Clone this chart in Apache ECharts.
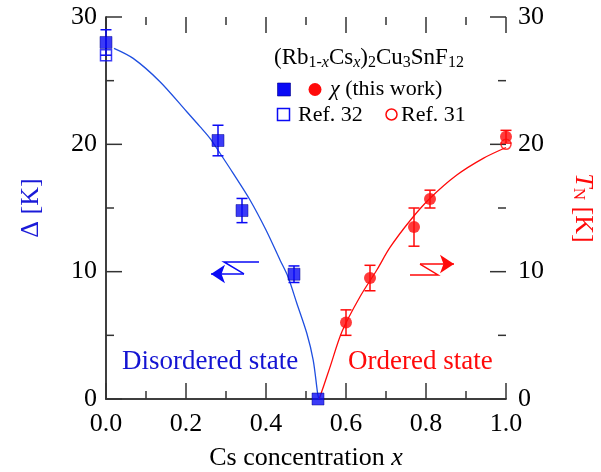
<!DOCTYPE html>
<html>
<head>
<meta charset="utf-8">
<script src="https://cdn.jsdelivr.net/npm/echarts@6/dist/echarts.min.js"></script>
<style>
  html, body { margin: 0; padding: 0; background: #fff; }
  #chart { width: 601px; height: 472px; }
</style>
</head>
<body>
<div id="chart"></div>
<script>
// Spin gap Δ (left axis) and Néel temperature T_N (right axis) vs Cs concentration x
const gapX = [0.0, 0.28, 0.34, 0.47, 0.53];
const gapY = [28.0, 20.3, 14.8, 9.8, 0.0];
const gapErr = [1.0, 1.2, 0.95, 0.65, 0.0];

const gapRefX = [0.0];
const gapRefY = [27.0];

const tnX = [0.60, 0.66, 0.77, 0.81, 1.0];
const tnY = [6.0, 9.5, 13.5, 15.7, 20.6];
const tnErr = [1.0, 1.0, 1.5, 0.7, 0.5];

const tnRefX = [1.0];
const tnRefY = [20.0];

// guide curves (x, value)
const gapCurve = [
  [0.02, 27.54], [0.068, 26.75], [0.135, 24.92], [0.202, 22.56], [0.235, 21.39],
  [0.26, 20.47], [0.285, 19.3], [0.318, 17.72], [0.36, 15.63], [0.40, 13.27],
  [0.435, 10.92], [0.455, 9.6], [0.477, 7.52], [0.502, 5.16], [0.518, 3.06],
  [0.529, 0.45], [0.532, 0.0]
];
const tnCurve = [
  [0.533, 0.0], [0.545, 1.1], [0.56, 2.5], [0.59, 5.3], [0.635, 8.03],
  [0.677, 10.13], [0.71, 11.9], [0.76, 14.0], [0.81, 15.76], [0.877, 17.59],
  [0.943, 18.9], [1.0, 19.75]
];

// direction arrows (data coordinates): body polyline + final segment carrying the head
const gapArrowBody = [[0.3825, 10.76], [0.295, 10.76], [0.345, 9.82]];
const gapArrowHead = [[0.345, 9.82], [0.2625, 9.82]];
const tnArrowBody = [[0.76, 9.74], [0.83, 9.74], [0.785, 10.6]];
const tnArrowHead = [[0.785, 10.6], [0.87, 10.6]];

// axis ticks
const xRange = [0, 1];
const yRange = [0, 30];
const xMajor = [0, 0.2, 0.4, 0.6, 0.8, 1.0];
const xMinor = [0.1, 0.3, 0.5, 0.7, 0.9];
const yMajor = [0, 10, 20, 30];
const yMinor = [5, 15, 25];

const BLUE = '#0a0af5';
const BLUE_LINE = '#1f4fe0';
const RED = '#ff0a0a';
const AXIS = '#333333';
const FONT = "'Liberation Serif', 'Times New Roman', serif";
const MAJOR_LEN = 16;
const MINOR_LEN = 8;

const zip = (xs, ys) => xs.map((x, i) => [x, ys[i]]);
const errData = (xs, ys, es) => xs.map((x, i) => [x, ys[i], ys[i] - es[i], ys[i] + es[i]]);

// [axisKind (0 = x, 1 = y), value, length]
const tickData = [].concat(
  xMajor.map(v => [0, v, MAJOR_LEN]), xMinor.map(v => [0, v, MINOR_LEN]),
  yMajor.map(v => [1, v, MAJOR_LEN]), yMinor.map(v => [1, v, MINOR_LEN])
);

function renderTick(params, api) {
  const kind = api.value(0), v = api.value(1), len = api.value(2);
  const style = { stroke: AXIS, lineWidth: 1.5 };
  if (kind === 0) {
    const b = api.coord([v, yRange[0]]);
    const t = api.coord([v, yRange[1]]);
    return { type: 'group', children: [
      { type: 'line', shape: { x1: b[0], y1: b[1], x2: b[0], y2: b[1] - len }, style },
      { type: 'line', shape: { x1: t[0], y1: t[1], x2: t[0], y2: t[1] + len }, style }
    ] };
  }
  const l = api.coord([xRange[0], v]);
  const r = api.coord([xRange[1], v]);
  return { type: 'group', children: [
    { type: 'line', shape: { x1: l[0], y1: l[1], x2: l[0] + len, y2: l[1] }, style },
    { type: 'line', shape: { x1: r[0], y1: r[1], x2: r[0] - len, y2: r[1] }, style }
  ] };
}

function errorBars(color) {
  return function (params, api) {
    const x = api.value(0);
    const lo = api.coord([x, api.value(2)]);
    const hi = api.coord([x, api.value(3)]);
    if (Math.abs(lo[1] - hi[1]) < 1) return null;
    const w = 5.5;
    const style = { stroke: color, lineWidth: 1.5 };
    return {
      type: 'group',
      children: [
        { type: 'line', shape: { x1: lo[0], y1: lo[1], x2: hi[0], y2: hi[1] }, style },
        { type: 'line', shape: { x1: lo[0] - w, y1: lo[1], x2: lo[0] + w, y2: lo[1] }, style },
        { type: 'line', shape: { x1: hi[0] - w, y1: hi[1], x2: hi[0] + w, y2: hi[1] }, style }
      ]
    };
  };
}

const axisCommon = {
  axisLine: { show: true, lineStyle: { color: AXIS, width: 1.5 } },
  axisTick: { show: false },
  minorTick: { show: false },
  splitLine: { show: false },
  minorSplitLine: { show: false }
};

const labelStyle = { color: '#000', fontFamily: FONT, fontSize: 26 };

const chart = echarts.init(document.getElementById('chart'), null, { renderer: 'canvas' });

chart.setOption({
  animation: false,
  backgroundColor: '#fff',
  grid: { left: 106, right: 95, top: 17, bottom: 73, containLabel: false, outerBoundsMode: 'none' },
  xAxis: [
    Object.assign({
      type: 'value', position: 'bottom',
      min: xRange[0], max: xRange[1], interval: 0.2,
      axisLabel: Object.assign({ margin: 12, formatter: v => v.toFixed(1) }, labelStyle),
      name: '{n|Cs concentration }{i|x}',
      nameLocation: 'middle', nameGap: 46,
      nameTextStyle: {
        rich: {
          n: { fontFamily: FONT, fontSize: 26, color: '#000' },
          i: { fontFamily: FONT, fontSize: 26, color: '#000', fontStyle: 'italic' }
        }
      }
    }, axisCommon),
    Object.assign({
      type: 'value', position: 'top',
      min: xRange[0], max: xRange[1], interval: 0.2,
      axisLabel: { show: false }
    }, axisCommon)
  ],
  yAxis: [
    Object.assign({
      type: 'value', position: 'left',
      min: yRange[0], max: yRange[1], interval: 10,
      axisLabel: Object.assign({ margin: 9 }, labelStyle),
      name: 'Δ [K]', nameLocation: 'middle', nameGap: 62, nameRotate: 90,
      nameTextStyle: { fontFamily: FONT, fontSize: 26, color: '#1a1ad8' }
    }, axisCommon),
    Object.assign({
      type: 'value', position: 'right',
      min: yRange[0], max: yRange[1], interval: 10,
      axisLabel: Object.assign({ margin: 12 }, labelStyle),
      name: '{t|T}{s|N}{n| [K]}', nameLocation: 'middle', nameGap: 64, nameRotate: -90,
      nameTextStyle: {
        rich: {
          t: { fontFamily: FONT, fontSize: 26, color: RED, fontStyle: 'italic' },
          s: { fontFamily: FONT, fontSize: 17, color: RED, verticalAlign: 'bottom', lineHeight: 14 },
          n: { fontFamily: FONT, fontSize: 26, color: RED }
        }
      }
    }, axisCommon)
  ],
  series: [
    {
      type: 'custom', renderItem: renderTick, clip: false, silent: true,
      data: tickData, encode: { x: 1, y: 2 }, z: 1
    },
    {
      type: 'line', data: gapCurve, smooth: 0.3, showSymbol: false, symbol: 'none',
      lineStyle: { color: BLUE_LINE, width: 1.3 }, z: 2
    },
    {
      type: 'line', data: tnCurve, smooth: 0.3, showSymbol: false, symbol: 'none',
      lineStyle: { color: RED, width: 1.3 }, z: 2
    },
    {
      type: 'lines', coordinateSystem: 'cartesian2d', polyline: true,
      data: [{ coords: gapArrowBody }, { coords: tnArrowBody, lineStyle: { color: RED } }],
      lineStyle: { color: BLUE, width: 1.5, opacity: 1 }, z: 3
    },
    {
      type: 'lines', coordinateSystem: 'cartesian2d',
      data: [{ coords: gapArrowHead }],
      symbol: ['none', 'arrow'], symbolSize: [9, 14],
      lineStyle: { color: BLUE, width: 1.5, opacity: 1 }, z: 3
    },
    {
      type: 'lines', coordinateSystem: 'cartesian2d',
      data: [{ coords: tnArrowHead }],
      symbol: ['none', 'arrow'], symbolSize: [9, 14],
      lineStyle: { color: RED, width: 1.5, opacity: 1 }, z: 3
    },
    {
      type: 'custom', renderItem: errorBars(BLUE), clip: false,
      data: errData(gapX, gapY, gapErr), encode: { x: 0, y: 1 }, z: 4
    },
    {
      type: 'custom', renderItem: errorBars(RED), clip: false,
      data: errData(tnX, tnY, tnErr), encode: { x: 0, y: 1 }, z: 4
    },
    {
      type: 'scatter', data: zip(gapRefX, gapRefY), symbol: 'rect', symbolSize: 11, clip: false,
      itemStyle: { color: 'rgba(0,0,0,0)', borderColor: BLUE, borderWidth: 1.5 }, z: 5
    },
    {
      type: 'scatter', data: zip(tnRefX, tnRefY), symbol: 'circle', symbolSize: 10, clip: false,
      itemStyle: { color: 'rgba(0,0,0,0)', borderColor: RED, borderWidth: 1.5 }, z: 5
    },
    {
      type: 'scatter', data: zip(gapX, gapY), symbol: 'rect', symbolSize: 12, clip: false,
      itemStyle: { color: BLUE, borderColor: '#00008a', borderWidth: 0.6 }, z: 6
    },
    {
      type: 'scatter', data: zip(tnX, tnY), symbol: 'circle', symbolSize: 12, clip: false,
      itemStyle: { color: RED }, z: 6
    }
  ],
  graphic: [
    {
      type: 'text', left: 274, top: 46, z: 10,
      style: {
        text: '{m|(Rb}{s|1-}{si|x}{m|Cs}{si|x}{m|)}{s|2}{m|Cu}{s|3}{m|SnF}{s|12}',
        rich: {
          m: { fontFamily: FONT, fontSize: 23, color: '#000', lineHeight: 26 },
          s: { fontFamily: FONT, fontSize: 16, color: '#000', verticalAlign: 'bottom', lineHeight: 14 },
          si: { fontFamily: FONT, fontSize: 16, color: '#000', fontStyle: 'italic', verticalAlign: 'bottom', lineHeight: 14 }
        }
      }
    },
    { type: 'rect', shape: { x: 277.5, y: 83, width: 13, height: 13 }, style: { fill: BLUE, stroke: '#00008a', lineWidth: 0.6 }, z: 10 },
    { type: 'circle', shape: { cx: 315, cy: 89.5, r: 6.5 }, style: { fill: RED }, z: 10 },
    {
      type: 'text', left: 330, top: 78, z: 10,
      style: {
        text: '{g|χ}{m| (this work)}',
        rich: {
          g: { fontFamily: FONT, fontSize: 22, color: '#000', fontStyle: 'italic' },
          m: { fontFamily: FONT, fontSize: 22, color: '#000' }
        }
      }
    },
    { type: 'rect', shape: { x: 277.5, y: 108.5, width: 12, height: 12 }, style: { fill: 'none', stroke: BLUE, lineWidth: 1.5 }, z: 10 },
    { type: 'text', left: 298, top: 104, z: 10, style: { text: 'Ref. 32', fontFamily: FONT, fontSize: 22, fill: '#000' } },
    { type: 'circle', shape: { cx: 391.5, cy: 114.5, r: 5.5 }, style: { fill: 'none', stroke: RED, lineWidth: 1.5 }, z: 10 },
    { type: 'text', left: 401, top: 104, z: 10, style: { text: 'Ref. 31', fontFamily: FONT, fontSize: 22, fill: '#000' } },
    { type: 'text', left: 122, top: 348, z: 10, style: { text: 'Disordered state', fontFamily: FONT, fontSize: 27, fill: '#1414d2' } },
    { type: 'text', left: 348, top: 348, z: 10, style: { text: 'Ordered state', fontFamily: FONT, fontSize: 27, fill: RED } }
  ]
});
</script>
</body>
</html>
